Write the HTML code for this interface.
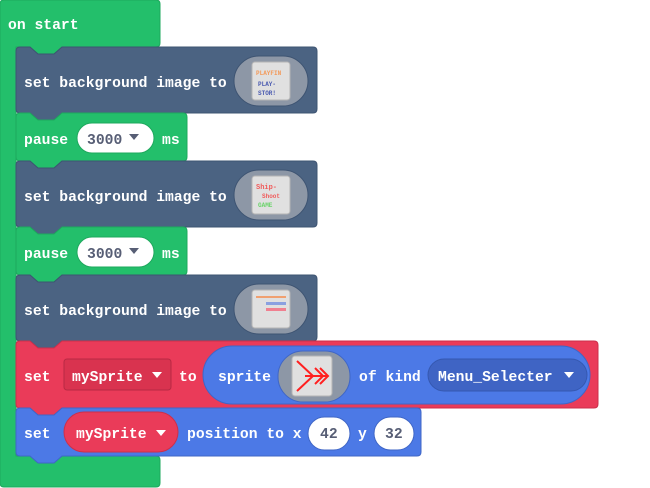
<!DOCTYPE html>
<html><head><meta charset="utf-8"><style>
html,body{margin:0;padding:0;background:#fff;width:650px;height:488px;overflow:hidden}
text{font-family:"Liberation Mono",monospace;font-weight:bold;font-size:14.7px;fill:#fff}
.d{fill:#575e75}
</style></head><body>
<svg width="650" height="488" xmlns="http://www.w3.org/2000/svg">
<!-- hat / c-block -->
<path d="M4,0 H156 Q160,0 160,4 V43 Q160,47 156,47 H62 l-8,7 h-16 l-8,-7 H16 V456 H156 Q160,456 160,460 V483 Q160,487 156,487 H4 Q0,487 0,483 V4 Q0,0 4,0 Z" fill="#23bf6b" stroke="#1ea85d" stroke-width="1"/>
<text x="8" y="29">on start</text>

<g stroke-width="1">
<path d="M20,47 H30 l8,7 h16 l8,-7 H313 q4,0 4,4 V109 q0,4 -4,4 H62 l-8,7 h-16 l-8,-7 H20 q-4,0 -4,-4 V51 q0,-4 4,-4Z" fill="#4b6382" stroke="#3e5472"/>
<path d="M20,113 H30 l8,7 h16 l8,-7 H183 q4,0 4,4 V157 q0,4 -4,4 H62 l-8,7 h-16 l-8,-7 H20 q-4,0 -4,-4 V117 q0,-4 4,-4Z" fill="#23bf6b" stroke="#1ea85d"/>
<path d="M20,161 H30 l8,7 h16 l8,-7 H313 q4,0 4,4 V223 q0,4 -4,4 H62 l-8,7 h-16 l-8,-7 H20 q-4,0 -4,-4 V165 q0,-4 4,-4Z" fill="#4b6382" stroke="#3e5472"/>
<path d="M20,227 H30 l8,7 h16 l8,-7 H183 q4,0 4,4 V271 q0,4 -4,4 H62 l-8,7 h-16 l-8,-7 H20 q-4,0 -4,-4 V231 q0,-4 4,-4Z" fill="#23bf6b" stroke="#1ea85d"/>
<path d="M20,275 H30 l8,7 h16 l8,-7 H313 q4,0 4,4 V337 q0,4 -4,4 H62 l-8,7 h-16 l-8,-7 H20 q-4,0 -4,-4 V279 q0,-4 4,-4Z" fill="#4b6382" stroke="#3e5472"/>
<path d="M20,341 H30 l8,7 h16 l8,-7 H594 q4,0 4,4 V404 q0,4 -4,4 H62 l-8,7 h-16 l-8,-7 H20 q-4,0 -4,-4 V345 q0,-4 4,-4Z" fill="#ea3b59" stroke="#cc2f4b"/>
<path d="M20,408 H30 l8,7 h16 l8,-7 H417 q4,0 4,4 V452 q0,4 -4,4 H62 l-8,7 h-16 l-8,-7 H20 q-4,0 -4,-4 V412 q0,-4 4,-4Z" fill="#4c79e6" stroke="#3f66c6"/>
</g>

<!-- bg1 -->
<text x="24" y="87">set background image to</text>
<rect x="234" y="56" width="74" height="50" rx="25" fill="#8d97a6" stroke="#3e5472"/>
<rect x="252" y="62" width="38" height="38" rx="3" fill="#e0e0e0" stroke="#b5b5b5"/>
<text x="256" y="75" style="font-size:6px;fill:#f39a5a">PLAYFIN</text>
<text x="258" y="86" style="font-size:6px;fill:#4a5ab0">PLAY-</text>
<text x="258" y="95" style="font-size:6px;fill:#4a5ab0">STOR!</text>

<!-- pause1 -->
<text x="24" y="144">pause</text>
<rect x="77" y="123" width="77" height="30" rx="15" fill="#fff" stroke="#1ea85d"/>
<text x="87" y="144" class="d">3000</text>
<path d="M129,134 h10 l-5,6z" fill="#575e75"/>
<text x="162" y="144">ms</text>

<!-- bg2 -->
<text x="24" y="201">set background image to</text>
<rect x="234" y="170" width="74" height="50" rx="25" fill="#8d97a6" stroke="#3e5472"/>
<rect x="252" y="176" width="38" height="38" rx="3" fill="#e0e0e0" stroke="#b5b5b5"/>
<text x="256" y="189" style="font-size:7px;fill:#f05a5a">Ship-</text>
<text x="262" y="198" style="font-size:6px;fill:#f05a5a">Shoot</text>
<text x="258" y="207" style="font-size:6px;fill:#6ad36a">GAME</text>

<!-- pause2 -->
<text x="24" y="258">pause</text>
<rect x="77" y="237" width="77" height="30" rx="15" fill="#fff" stroke="#1ea85d"/>
<text x="87" y="258" class="d">3000</text>
<path d="M129,248 h10 l-5,6z" fill="#575e75"/>
<text x="162" y="258">ms</text>

<!-- bg3 -->
<text x="24" y="315">set background image to</text>
<rect x="234" y="284" width="74" height="50" rx="25" fill="#8d97a6" stroke="#3e5472"/>
<rect x="252" y="290" width="38" height="38" rx="3" fill="#e0e0e0" stroke="#b5b5b5"/>
<rect x="256" y="296" width="30" height="2" fill="#f0a070"/>
<rect x="266" y="302" width="20" height="3" fill="#8aa0e0"/>
<rect x="266" y="308" width="20" height="3" fill="#f08090"/>

<!-- set mySprite to sprite -->
<text x="24" y="381">set</text>
<rect x="64" y="359" width="107" height="31" rx="3" fill="#d9334f" stroke="#b82a44"/>
<text x="72" y="381">mySprite</text>
<path d="M152,372 h10 l-5,6z" fill="#fff"/>
<text x="179" y="381">to</text>
<rect x="203" y="346" width="387" height="58" rx="29" fill="#4c79e6" stroke="#3f66c6"/>
<text x="218" y="381">sprite</text>
<rect x="278" y="351" width="72" height="51" rx="25" fill="#8d97a6" stroke="#3f66c6"/>
<rect x="292" y="356" width="40" height="40" rx="3" fill="#e0e0e0" stroke="#b5b5b5"/>
<path d="M297,361 L313,376 L297,391 M305,376 H327 M315,368 L323,376 L315,384 M320,368 L328,376 L320,384" fill="none" stroke="#ff2020" stroke-width="2"/>
<text x="359" y="381">of kind</text>
<rect x="428" y="359" width="159" height="32" rx="16" fill="#3f64c4" stroke="#3558b0"/>
<text x="438" y="381">Menu_Selecter</text>
<path d="M564,372 h10 l-5,6z" fill="#fff"/>

<!-- set position -->
<text x="24" y="438">set</text>
<rect x="64" y="412" width="114" height="40" rx="20" fill="#ea3b59" stroke="#cc2f4b"/>
<text x="76" y="438">mySprite</text>
<path d="M156,430 h10 l-5,6z" fill="#fff"/>
<text x="187" y="438">position to x</text>
<rect x="308" y="417" width="42" height="33" rx="16.5" fill="#fff" stroke="#3f66c6"/>
<text x="320" y="438" class="d">42</text>
<text x="358" y="438">y</text>
<rect x="374" y="417" width="40" height="33" rx="16.5" fill="#fff" stroke="#3f66c6"/>
<text x="385" y="438" class="d">32</text>
</svg>
</body></html>
